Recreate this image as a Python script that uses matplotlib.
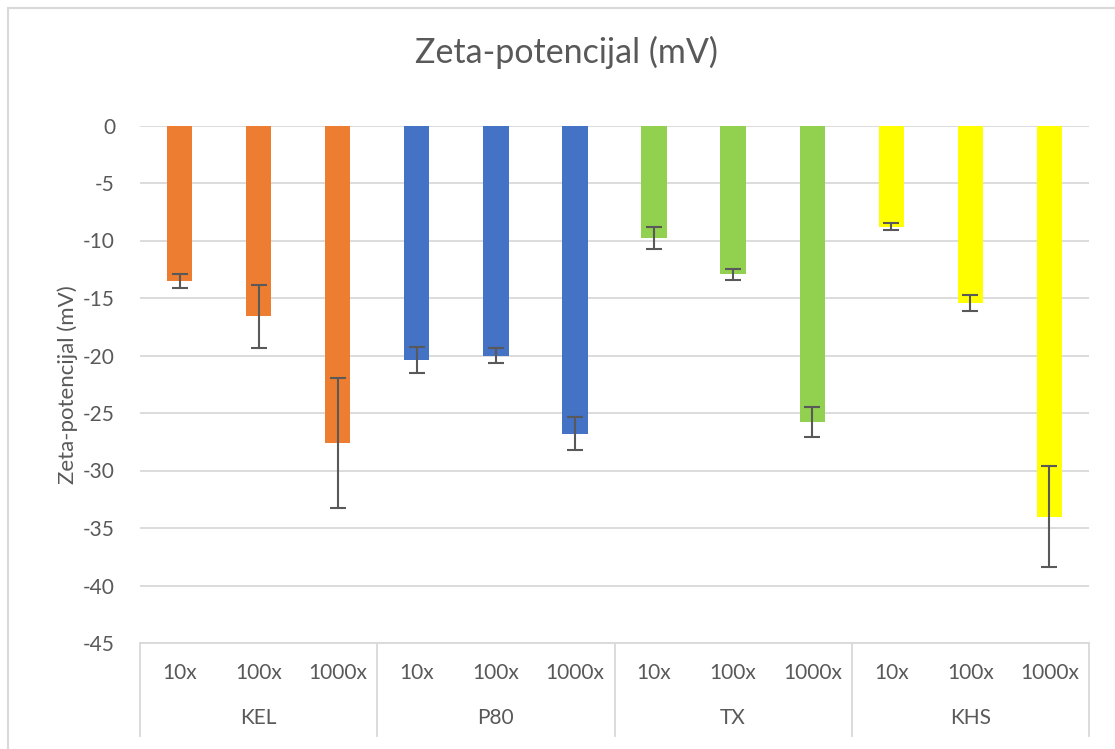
import numpy as np
import matplotlib.pyplot as plt
from matplotlib.patches import Rectangle
from matplotlib.transforms import blended_transform_factory

plt.rcParams['font.family'] = ['Lato', 'DejaVu Sans']
plt.rcParams['axes.unicode_minus'] = False

groups = ['KEL', 'P80', 'TX', 'KHS']
dilutions = ['10x', '100x', '1000x']
colors = ['#ED7D31', '#4472C4', '#92D050', '#FFFF00']

# zeta potential (mV) per group, per dilution
kel = [-13.5, -16.6, -27.6]
p80 = [-20.4, -20.0, -26.8]
tx = [-9.8, -12.95, -25.8]
khs = [-8.8, -15.4, -34.0]

kel_err = [0.6, 2.75, 5.65]
p80_err = [1.15, 0.65, 1.45]
tx_err = [0.95, 0.5, 1.3]
khs_err = [0.3, 0.7, 4.35]

values = [kel, p80, tx, khs]
errors = [kel_err, p80_err, tx_err, khs_err]

grey = '#595959'
gridc = '#D9D9D9'

fig = plt.figure(figsize=(11.15, 7.49), dpi=100)
ax = fig.add_axes([140 / 1115, 1 - 643 / 749, 949 / 1115, (643 - 125.5) / 749])

# chart border (Excel chart area)
fig.patches.append(Rectangle((8 / 1115, -0.05), 1.2, (749 - 8) / 749 + 0.05,
                             transform=fig.transFigure, fill=False,
                             edgecolor=gridc, linewidth=1.5))

n = len(dilutions)
for g, (vals, errs, col) in enumerate(zip(values, errors, colors)):
    x = np.arange(n) + g * n
    ax.bar(x, vals, width=0.32, color=col, zorder=2)
    ax.errorbar(x, vals, yerr=errs, fmt='none', ecolor=grey, elinewidth=1.5,
                capsize=6, capthick=1.5, zorder=3)

ax.set_ylim(-45, 0)
ax.set_xlim(-0.5, len(groups) * n - 0.5)
ax.set_yticks(np.arange(-45, 1, 5))
ax.yaxis.grid(True, color=gridc, linewidth=1.3, zorder=0)
ax.set_axisbelow(True)
ax.tick_params(axis='y', length=0, pad=18, labelsize=15, labelcolor=grey)
ax.set_xticks([])
for s in ['top', 'right', 'left']:
    ax.spines[s].set_visible(False)
ax.spines['bottom'].set_color(gridc)
ax.spines['bottom'].set_linewidth(1.3)

ax.set_ylabel('Zeta-potencijal (mV)', fontsize=16, color=grey, labelpad=4)
fig.text(566 / 1115, 1 - 52 / 749, 'Zeta-potencijal (mV)', ha='center', va='center',
         fontsize=24.5, color=grey)

# two-level category axis
trans = blended_transform_factory(ax.transData, ax.transAxes)
px = 1 / (643 - 125.5)
for g, name in enumerate(groups):
    for i, d in enumerate(dilutions):
        ax.text(g * n + i, -30 * px, d, transform=trans, ha='center', va='center',
                fontsize=15, color=grey)
    ax.text(g * n + 1, -75 * px, name, transform=trans, ha='center', va='center',
            fontsize=15, color=grey)
for b in np.arange(len(groups) + 1) * n - 0.5:
    ax.plot([b, b], [0, -93 * px], transform=trans, color=gridc, linewidth=1.3,
            clip_on=False)

fig.savefig('out.png', dpi=100)
